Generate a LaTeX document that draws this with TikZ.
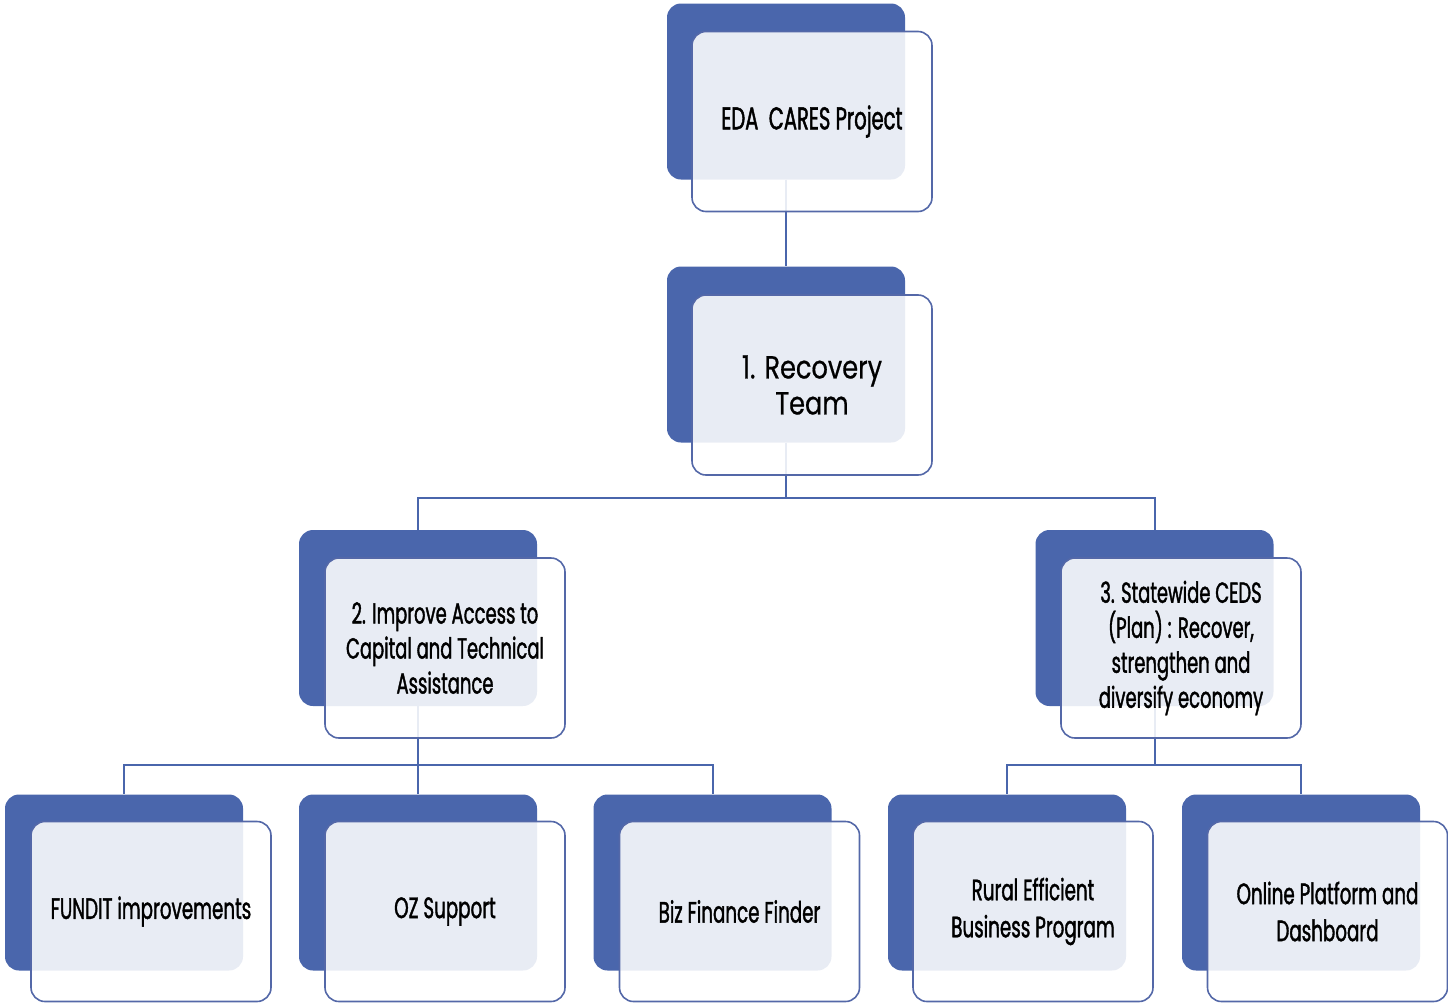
\documentclass[tikz,border=0pt]{standalone}
\usepackage{fontspec}
\setmainfont{Poppins}
\newfontfamily\condfont[FakeStretch=0.62, FakeBold=1.3]{Poppins}
\newfontfamily\widefont[FakeStretch=0.8, FakeBold=0.6]{Poppins}
\definecolor{eblue}{HTML}{4A66AC}
\definecolor{eedge}{HTML}{5468A8}
\begin{document}
\begin{tikzpicture}[x=1pt,y=-1pt,
  backbox/.style={rounded corners=14pt, fill=eblue, minimum width=238pt, minimum height=176pt, inner sep=0pt},
  frontbox/.style={rounded corners=14pt, draw=eedge, line width=1.6pt, fill=white, fill opacity=0.88, text opacity=1, minimum width=240pt, minimum height=180pt, align=center, inner sep=0pt, font=\condfont\fontsize{29}{35}\selectfont},
  topfont/.style={font=\condfont\fontsize{31.5}{36}\selectfont},
  teamfont/.style={font=\widefont\fontsize{32}{36}\selectfont},
  leaffont/.style={font=\condfont\fontsize{29.5}{37}\selectfont},
  link/.style={draw=eblue, line width=2pt}]
\useasboundingbox (0,0) rectangle (1448,1004);
% back boxes
\node[backbox] (b0) at (786,91.5) {};
\node[backbox] (b1) at (786,354.5) {};
\node[backbox] (b2) at (418,618) {};
\node[backbox] (b3) at (1154.5,618) {};
\node[backbox] (l1) at (124,882.5) {};
\node[backbox] (l2) at (418,882.5) {};
\node[backbox] (l3) at (712.5,882.5) {};
\node[backbox] (l4) at (1007,882.5) {};
\node[backbox] (l5) at (1301,882.5) {};
% connectors
\coordinate (j1) at (786,498);
\coordinate (j2) at (418,765);
\coordinate (j3) at (1154.5,765);
\draw[link] (b0.south) -- (b1.north);
\draw[link] (b1.south) -- (j1);
\draw[link] (j1) -| (b2.north);
\draw[link] (j1) -| (b3.north);
\draw[link] (b2.south) -- (j2);
\draw[link] (j2) -| (l1.north);
\draw[link] (j2) -- (l2.north);
\draw[link] (j2) -| (l3.north);
\draw[link] (b3.south) -- (j3);
\draw[link] (j3) -| (l4.north);
\draw[link] (j3) -| (l5.north);
% front boxes
\node[frontbox, topfont] (f0) at (812,121.5) {EDA\ \ CARES Project};
\node[frontbox, teamfont] (f1) at (812,385) {1. Recovery\\Team};
\node[frontbox] (f2) at (445,648) {2. Improve Access to\\Capital and Technical\\Assistance};
\node[frontbox] (f3) at (1181,648) {3. Statewide CEDS\\(Plan) : Recover,\\strengthen and\\diversify economy};
\node[frontbox, leaffont] (g1) at (151,911.5) {FUNDIT improvements};
\node[frontbox, leaffont] (g2) at (445,911.5) {OZ Support};
\node[frontbox, leaffont] (g3) at (739.5,911.5) {Biz Finance Finder};
\node[frontbox, leaffont] (g4) at (1033,911.5) {Rural Efficient\\Business Program};
\node[frontbox, leaffont] (g5) at (1327.5,911.5) {Online Platform and\\Dashboard};
\end{tikzpicture}
\end{document}
